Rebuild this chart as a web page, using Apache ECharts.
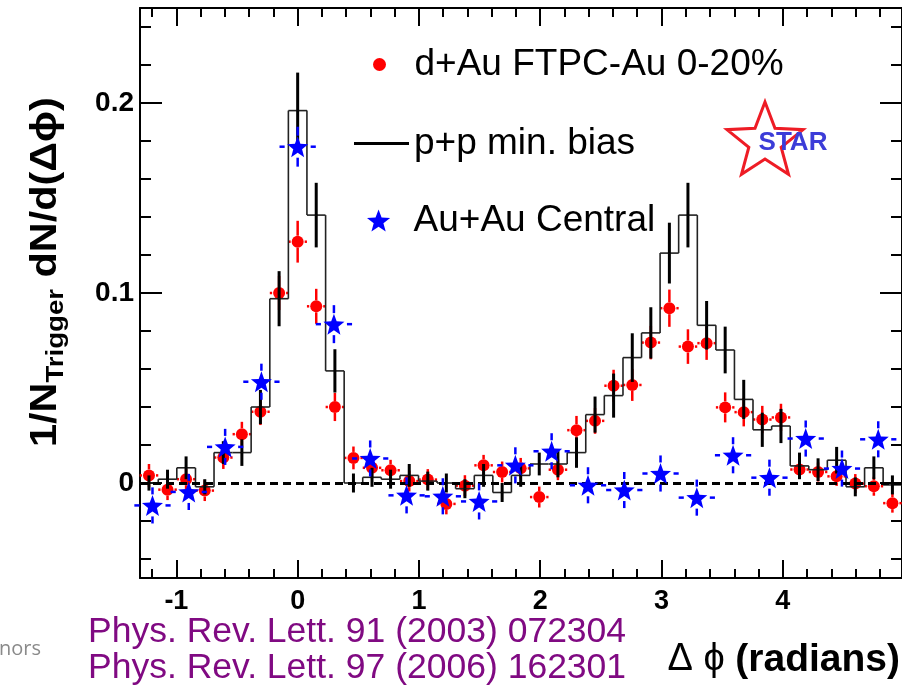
<!DOCTYPE html>
<html>
<head>
<meta charset="utf-8">
<title>Delta phi correlations</title>
<script src="https://cdn.jsdelivr.net/npm/echarts@6.0.0/dist/echarts.min.js"></script>
<style>
html, body { margin: 0; padding: 0; background: #fff; }
#chart { width: 902px; height: 686px; }
</style>
</head>
<body>
<div id="chart"></div>
<script>
// bin centres of the d+Au / p+p histograms (radians)
var binX = [-1.226, -1.073, -0.920, -0.766, -0.613, -0.460, -0.307, -0.153, 0.000, 0.153,
            0.307, 0.460, 0.613, 0.766, 0.920, 1.073, 1.226, 1.379, 1.533, 1.686,
            1.839, 1.992, 2.146, 2.299, 2.452, 2.605, 2.759, 2.912, 3.065, 3.218,
            3.372, 3.525, 3.678, 3.831, 3.985, 4.138, 4.291, 4.444, 4.598, 4.751, 4.904];

// d+Au FTPC-Au 0-20%
var dauY = [0.004, -0.0035, 0.002, -0.004, 0.0134, 0.0257, 0.0375, 0.100, 0.127, 0.093,
            0.040, 0.0132, 0.008, 0.0067, 0.001, 0.0018, -0.011, -0.0014, 0.0093, 0.0058,
            0.0077, -0.0074, 0.007, 0.0278, 0.0327, 0.0512, 0.0516, 0.0739, 0.092, 0.0718,
            0.0736, 0.0398, 0.0373, 0.0334, 0.0345, 0.0071, 0.0058, 0.0035, -0.0003, -0.0017, -0.0106];
var dauErr = [0.006, 0.0055, 0.0055, 0.0055, 0.006, 0.0065, 0.007, 0.009, 0.011, 0.0092,
              0.0074, 0.006, 0.0055, 0.0055, 0.0055, 0.0055, 0.0055, 0.0055, 0.0055, 0.0055,
              0.0055, 0.0055, 0.0055, 0.0075, 0.0068, 0.0084, 0.0084, 0.0088, 0.0098, 0.0091,
              0.0088, 0.0079, 0.0075, 0.0072, 0.0072, 0.005, 0.005, 0.005, 0.005, 0.005, 0.005];

// p+p min. bias
var ppY = [0.000, 0.002, 0.008, -0.002, 0.016, 0.016, 0.040, 0.097, 0.196, 0.141,
           0.059, 0.000, 0.003, 0.002, 0.004, 0.001, 0.000, -0.003, 0.004, -0.005,
           0.004, 0.010, 0.010, 0.016, 0.036, 0.046, 0.066, 0.079, 0.121, 0.141,
           0.083, 0.070, 0.044, 0.028, 0.030, 0.009, 0.007, 0.012, -0.002, 0.008, -0.001];
var ppErr = [0.004, 0.005, 0.006, 0.004, 0.006, 0.007, 0.009, 0.0145, 0.020, 0.017,
             0.0114, 0.005, 0.005, 0.005, 0.006, 0.005, 0.005, 0.005, 0.006, 0.005,
             0.006, 0.006, 0.007, 0.008, 0.0095, 0.0116, 0.0128, 0.0135, 0.016, 0.017,
             0.0128, 0.0123, 0.0103, 0.009, 0.009, 0.007, 0.006, 0.007, 0.005, 0.006, 0.005];

// Au+Au Central
var auX = [-1.197, -0.898, -0.598, -0.299, 0.000, 0.299, 0.598, 0.898, 1.197, 1.496,
           1.795, 2.094, 2.394, 2.693, 2.992, 3.291, 3.590, 3.890, 4.189, 4.488, 4.787];
var auY = [-0.0118, -0.0047, 0.019, 0.0533, 0.177, 0.0836, 0.0129, -0.0065, -0.007, -0.0097,
           0.0093, 0.0167, -0.0012, -0.0037, 0.005, -0.0077, 0.0146, 0.0028, 0.0234, 0.0076, 0.023];
var auErr = [0.0095, 0.0095, 0.0095, 0.0095, 0.0105, 0.010, 0.0095, 0.0095, 0.0095, 0.0095,
             0.0095, 0.0095, 0.0095, 0.0095, 0.0095, 0.0095, 0.0095, 0.0095, 0.0095, 0.0095, 0.0095];

var dauHalfBin = 0.0766;
var auHalfBin = 0.1496;

var xMajor = [-1, 0, 1, 2, 3, 4];
var xMinor = [-1.2, -0.8, -0.6, -0.4, -0.2, 0.2, 0.4, 0.6, 0.8, 1.2, 1.4, 1.6, 1.8,
              2.2, 2.4, 2.6, 2.8, 3.2, 3.4, 3.6, 3.8, 4.2, 4.4, 4.6, 4.8];
var yMajor = [0, 0.1, 0.2];
var yMinor = [-0.04, -0.02, 0.02, 0.04, 0.06, 0.08, 0.12, 0.14, 0.16, 0.18, 0.22, 0.24];

var nameDau = 'd+Au FTPC-Au 0-20%';
var namePP = 'p+p min. bias';
var nameAu = 'Au+Au Central';

var xMin = -1.3, xMax = 4.983;
var yMin = -0.05, yMax = 0.25;

var starPath = 'path://M0,-10 L2.469,-3.398 L9.511,-3.09 L3.994,1.298 L5.878,8.09 L0,4.2 L-5.878,8.09 L-3.994,1.298 L-9.511,-3.09 L-2.469,-3.398 Z';
var font = 'Liberation Sans';

var myChart = echarts.init(document.getElementById('chart'));

// error bars, drawn as ROOT does: cut out round the marker
function errRender(color, width, gapX, gapY, halfBin) {
    return function (params, api) {
        var x = api.value(0), y = api.value(1), e = api.value(2);
        var c = api.coord([x, y]);
        var t = api.coord([x, y + e]);
        var b = api.coord([x, y - e]);
        var st = { stroke: color, lineWidth: width };
        var kids = [];
        if (c[1] - t[1] > gapY) {
            kids.push({ type: 'line', shape: { x1: c[0], y1: t[1], x2: c[0], y2: c[1] - gapY }, style: st });
            kids.push({ type: 'line', shape: { x1: c[0], y1: c[1] + gapY, x2: c[0], y2: b[1] }, style: st });
        }
        if (halfBin > 0) {
            var l = api.coord([x - halfBin, y]);
            var r = api.coord([x + halfBin, y]);
            kids.push({ type: 'line', shape: { x1: l[0], y1: c[1], x2: c[0] - gapX, y2: c[1] }, style: st });
            kids.push({ type: 'line', shape: { x1: c[0] + gapX, y1: c[1], x2: r[0], y2: c[1] }, style: st });
        }
        return { type: 'group', children: kids };
    };
}

// p+p step histogram
function histRender(params, api) {
    var i = params.dataIndex;
    var x = api.value(0), v = api.value(1);
    var a = api.coord([x - dauHalfBin, v]);
    var b = api.coord([x + dauHalfBin, v]);
    var st = { stroke: '#222', lineWidth: 1.6 };
    var kids = [{ type: 'line', shape: { x1: a[0], y1: a[1], x2: b[0], y2: b[1] }, style: st }];
    if (i > 0) {
        var p = api.coord([x - dauHalfBin, ppY[i - 1]]);
        kids.push({ type: 'line', shape: { x1: a[0], y1: p[1], x2: a[0], y2: a[1] }, style: st });
    }
    return { type: 'group', children: kids };
}

function xAx(pos, ticks, len, line, labels) {
    return {
        type: 'value', position: pos, min: xMin, max: xMax,
        axisLine: { show: line, onZero: false, lineStyle: { color: '#000', width: 2 } },
        axisTick: { show: true, inside: true, length: len, customValues: ticks, lineStyle: { color: '#000', width: 2 } },
        axisLabel: labels ? {
            show: true, customValues: xMajor, margin: 10, color: '#000',
            fontFamily: font, fontWeight: 'bold', fontSize: 27
        } : { show: false },
        splitLine: { show: false }
    };
}
function yAx(pos, ticks, len, line, labels) {
    return {
        type: 'value', position: pos, min: yMin, max: yMax,
        axisLine: { show: line, onZero: false, lineStyle: { color: '#000', width: 2 } },
        axisTick: { show: true, inside: true, length: len, customValues: ticks, lineStyle: { color: '#000', width: 2 } },
        axisLabel: labels ? {
            show: true, customValues: yMajor, margin: 6, color: '#000',
            fontFamily: font, fontWeight: 'bold', fontSize: 28,
            formatter: function (v) { return v === 0 ? '0' : String(v); }
        } : { show: false },
        splitLine: { show: false }
    };
}

// red star outline of the STAR logo
var logoPts = [];
for (var k = 0; k < 10; k++) {
    var ang = -Math.PI / 2 + k * Math.PI / 5;
    var rad = k % 2 === 0 ? 40 : 17;
    logoPts.push([765 + rad * Math.cos(ang), 142 + rad * Math.sin(ang)]);
}

var legendText = { fontFamily: font, fontSize: 37, color: '#000' };

var option = {
    animation: false,
    backgroundColor: '#fff',
    grid: { left: 140, right: -2, top: 8, bottom: 108 },
    xAxis: [
        xAx('bottom', xMajor, 18, true, true),
        xAx('bottom', xMinor, 9, false, false),
        xAx('top', xMajor, 18, true, false),
        xAx('top', xMinor, 9, false, false)
    ],
    yAxis: [
        yAx('left', yMajor, 22, true, true),
        yAx('left', yMinor, 11, false, false),
        yAx('right', yMajor, 22, true, false),
        yAx('right', yMinor, 11, false, false)
    ],
    legend: [
        { data: [{ name: nameDau, icon: 'circle', itemStyle: { color: '#ff0000', opacity: 1 } }], left: 368, top: 41,
          itemWidth: 60, itemHeight: 13, selectedMode: false, textStyle: legendText },
        { data: [{ name: namePP, icon: 'rect', itemStyle: { color: '#000' } }], left: 349, top: 120,
          itemWidth: 55, itemHeight: 3, selectedMode: false, textStyle: legendText },
        { data: [{ name: nameAu, icon: starPath, itemStyle: { color: '#0000ff', opacity: 1 } }], left: 362, top: 197,
          itemWidth: 60, itemHeight: 22, selectedMode: false, textStyle: legendText }
    ],
    graphic: [
        { type: 'polygon', shape: { points: logoPts }, style: { fill: 'none', stroke: '#ee1c25', lineWidth: 3 } },
        { type: 'text', x: 793, y: 143, style: { text: 'STAR', fill: '#3c3cd8', fontFamily: font, fontWeight: 'bold',
          fontSize: 26, align: 'center', verticalAlign: 'middle' } },
        { type: 'text', x: 46, y: 272, rotation: Math.PI / 2, scaleX: 1.15,
          style: {
              text: '{m|1/N}{s|Trigger}{m| dN/d(Δϕ)}', align: 'center', verticalAlign: 'middle', fill: '#000',
              rich: {
                  m: { fontFamily: font, fontWeight: 'bold', fontSize: 36, lineHeight: 44, verticalAlign: 'middle', fill: '#000' },
                  s: { fontFamily: font, fontWeight: 'bold', fontSize: 24, lineHeight: 24, verticalAlign: 'bottom', fill: '#000' }
              }
          } },
        { type: 'text', x: 900, y: 660,
          style: {
              text: '{t|Δ ϕ }{b|(radians)}', align: 'right', verticalAlign: 'middle',
              rich: {
                  t: { fontFamily: font, fontSize: 38, fill: '#000' },
                  b: { fontFamily: font, fontWeight: 'bold', fontSize: 39, fill: '#000' }
              }
          } },
        { type: 'text', x: 88, y: 632, style: { text: 'Phys. Rev. Lett. 91 (2003) 072304', fill: '#800a82',
          fontFamily: font, fontSize: 35.5, verticalAlign: 'middle' } },
        { type: 'text', x: 88, y: 668, style: { text: 'Phys. Rev. Lett. 97 (2006) 162301', fill: '#800a82',
          fontFamily: font, fontSize: 35.5, verticalAlign: 'middle' } },
        { type: 'text', x: -1, y: 649, style: { text: 'nors', fill: '#8a8a8a', fontFamily: 'Open Sans',
          fontSize: 20, verticalAlign: 'middle' } }
    ],
    series: [
        {
            name: 'dauErr', type: 'custom', renderItem: errRender('#ff0000', 2.5, 7, 6, dauHalfBin),
            data: binX.map(function (x, i) { return [x, dauY[i], dauErr[i]]; }), z: 3
        },
        {
            name: nameDau, type: 'scatter', symbol: 'circle', symbolSize: 12,
            itemStyle: { color: '#ff0000', opacity: 1 },
            data: binX.map(function (x, i) { return [x, dauY[i]]; }), z: 3,
            markLine: {
                silent: true, symbol: 'none', label: { show: false },
                lineStyle: { color: '#000', width: 3, type: [8, 5] },
                data: [{ yAxis: 0 }]
            }
        },
        {
            name: namePP, type: 'custom', renderItem: histRender, itemStyle: { color: '#000' },
            data: binX.map(function (x, i) { return [x, ppY[i]]; }), z: 4
        },
        {
            name: 'ppErr', type: 'custom', renderItem: errRender('#000', 3, 0, 0, 0),
            data: binX.map(function (x, i) { return [x, ppY[i], ppErr[i]]; }), z: 4
        },
        {
            name: 'auErr', type: 'custom', renderItem: errRender('#0000ff', 2.5, 13, 11, auHalfBin),
            data: auX.map(function (x, i) { return [x, auY[i], auErr[i]]; }), z: 5
        },
        {
            name: nameAu, type: 'scatter', symbol: starPath, symbolSize: 21,
            itemStyle: { color: '#0000ff', opacity: 1 },
            data: auX.map(function (x, i) { return [x, auY[i]]; }), z: 5
        }
    ]
};
myChart.setOption(option);
</script>
</body>
</html>
